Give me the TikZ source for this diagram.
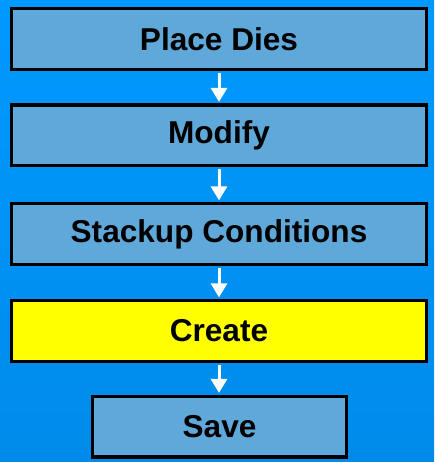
\documentclass[tikz,border=0pt]{standalone}
\usepackage{fontspec}
\setmainfont{Liberation Sans}
\usetikzlibrary{arrows.meta}
\definecolor{bgtop}{HTML}{0099FF}
\definecolor{bgbottom}{HTML}{008BEA}
\definecolor{stepfill}{HTML}{5FA8DA}
\definecolor{hilite}{HTML}{FFFF00}
\begin{document}
\begin{tikzpicture}[x=1pt,y=-1pt,
  stepbox/.style={draw=black, line width=3.3pt, fill=stepfill,
    minimum width=414.7pt, minimum height=60.7pt, inner sep=0pt,
    font=\fontsize{31.6}{36}\selectfont\bfseries},
  flow/.style={draw=white, line width=3pt,
    -{Triangle[width=16pt,length=14pt]}, shorten >=1.6pt, shorten <=1.6pt}]
  % background
  \shade[top color=bgtop, bottom color=bgbottom] (0,0) rectangle (434,462);
  \useasboundingbox (0,0) rectangle (434,462);
  % process steps
  \node[stepbox] (place) at (219,39) {Place Dies};
  \node[stepbox] (modify) at (219,135.5) {Modify};
  \node[stepbox] (stackup) at (219,234) {Stackup Conditions};
  \node[stepbox, fill=hilite] (create) at (219,331) {Create};
  \node[stepbox, minimum width=253.7pt] (save) at (219.5,426.5) {Save};
  % connectors
  \draw[flow] (place.south) -- (modify.north);
  \draw[flow] (modify.south) -- (stackup.north);
  \draw[flow] (stackup.south) -- (create.north);
  \draw[flow] (create.south) -- (save.north -| create.south);
\end{tikzpicture}
\end{document}
